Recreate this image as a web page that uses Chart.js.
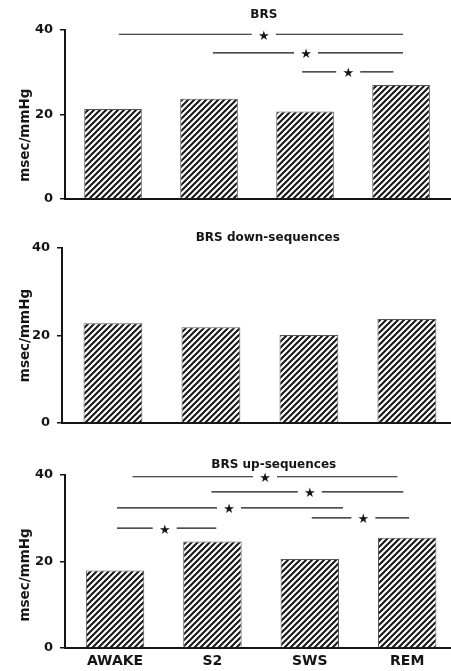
<!DOCTYPE html>
<html>
<head>
<meta charset="utf-8">
<script src="https://cdn.jsdelivr.net/npm/chart.js@4.4.0/dist/chart.umd.min.js"></script>
<style>
html,body{margin:0;background:#fff;}
.panel{position:absolute;left:0;width:451px;}
</style>
</head>
<body>
<div class="panel" style="top:0;height:220px"><canvas id="c1"></canvas></div>
<div class="panel" style="top:220px;height:220px"><canvas id="c2"></canvas></div>
<div class="panel" style="top:440px;height:231px"><canvas id="c3"></canvas></div>
<script>
const STAGES = ['AWAKE','S2','SWS','REM'];
const BRS_ALL = [21.3, 23.7, 20.7, 27.0];
const BRS_DOWN = [22.8, 21.9, 20.1, 23.8];
const BRS_UP = [17.9, 24.6, 20.6, 25.5];
const Y_TICKS = [0, 20, 40];
// significance bars: [from stage, to stage, height (msec/mmHg), star at stage]
const SIG_ALL = [[0.06,3.02,39.0,1.57],[1.04,3.02,34.6,2.01],[1.97,2.92,30.1,2.45]];
const SIG_DOWN = [];
const SIG_UP = [[0.18,2.90,39.6,1.54],[0.99,2.96,36.1,2.0],[0.02,2.34,32.4,1.17],[2.02,3.02,30.1,2.55],[0.02,1.04,27.7,0.51]];

const FONT = "'DejaVu Sans', sans-serif";
const INK = '#151515';

function hatch(){
  const n = 6;
  const c = document.createElement('canvas');
  c.width = c.height = n;
  const g = c.getContext('2d');
  g.fillStyle = '#fff'; g.fillRect(0,0,n,n);
  g.strokeStyle = INK; g.lineWidth = 2;
  g.beginPath();
  g.moveTo(-1,1); g.lineTo(1,-1);
  g.moveTo(0,n); g.lineTo(n,0);
  g.moveTo(n-1,n+1); g.lineTo(n+1,n-1);
  g.stroke();
  return g.createPattern(c,'repeat');
}
const pattern = hatch();

function decor(o){
  return {
    id:'decor',
    afterDraw(chart){
      const {ctx, scales:{x,y}} = chart;
      ctx.save();
      ctx.fillStyle = INK;
      ctx.textAlign = 'center'; ctx.textBaseline = 'middle';
      ctx.font = `bold 12px ${FONT}`;
      ctx.fillText(o.title, x.getPixelForValue(o.titleAt), o.titleY);

      ctx.save();
      ctx.translate(25, y.getPixelForValue(o.labelAt));
      ctx.rotate(-Math.PI/2);
      ctx.font = `bold 13.5px ${FONT}`;
      ctx.fillText('msec/mmHg', 0, 0);
      ctx.restore();

      ctx.strokeStyle = INK; ctx.lineWidth = 1.2;
      ctx.font = `13px ${FONT}`;
      o.sig.forEach(([a,b,h,s])=>{
        const py = y.getPixelForValue(h), ps = x.getPixelForValue(s);
        ctx.beginPath();
        ctx.moveTo(x.getPixelForValue(a), py); ctx.lineTo(ps-12, py);
        ctx.moveTo(ps+12, py); ctx.lineTo(x.getPixelForValue(b), py);
        ctx.stroke();
        ctx.fillText('★', ps, py+2);
      });
      ctx.restore();
    }
  };
}

function panel(id, values, o){
  return new Chart(document.getElementById(id), {
    type:'bar',
    data:{ datasets:[{
      data: values.map((v,i)=>({x:i, y:v})),
      backgroundColor: pattern, borderColor:'#555', borderWidth:1,
      barPercentage:0.6, categoryPercentage:1
    }]},
    options:{
      responsive:true, maintainAspectRatio:false, animation:false,
      layout:{ padding:{ top:o.top, left:0, right:0, bottom:0 } },
      plugins:{ legend:{display:false}, tooltip:{enabled:false} },
      scales:{
        x:{ type:'linear', min:o.xMin, max:o.xMax, offset:false,
            grid:{ display:false, drawTicks:false },
            border:{ color:INK, width:2 },
            afterBuildTicks: s => { s.ticks = STAGES.map((_,i)=>({value:i})); },
            afterFit: s => { s.height = o.bottom; },
            ticks:{ display:o.labels, padding:5, color:INK, autoSkip:false, maxRotation:0,
                    font:{ family:FONT, size:14, weight:'bold' },
                    callback: v => STAGES[v] } },
        y:{ min:0, max:40,
            afterBuildTicks: s => { s.ticks = Y_TICKS.map(v=>({value:v})); },
            afterFit: s => { s.width = o.left; },
            grid:{ drawOnChartArea:false, color:INK, tickLength:5, lineWidth:1.5 },
            border:{ color:INK, width:2 },
            ticks:{ padding:7, color:INK, font:{ family:FONT, size:13, weight:'bold' } } }
      }
    },
    plugins:[decor(o)]
  });
}

panel('c1', BRS_ALL, {title:'BRS', titleAt:1.57, titleY:15, labelAt:15.1, sig:SIG_ALL,
  top:30, bottom:21, left:65, xMin:-0.5, xMax:3.52, labels:false});
panel('c2', BRS_DOWN, {title:'BRS down-sequences', titleAt:1.58, titleY:18, labelAt:20, sig:SIG_DOWN,
  top:28, bottom:17, left:62, xMin:-0.52, xMax:3.45, labels:false});
panel('c3', BRS_UP, {title:'BRS up-sequences', titleAt:1.63, titleY:25, labelAt:16.9, sig:SIG_UP,
  top:35, bottom:23, left:65, xMin:-0.514, xMax:3.45, labels:true});
</script>
</body>
</html>
